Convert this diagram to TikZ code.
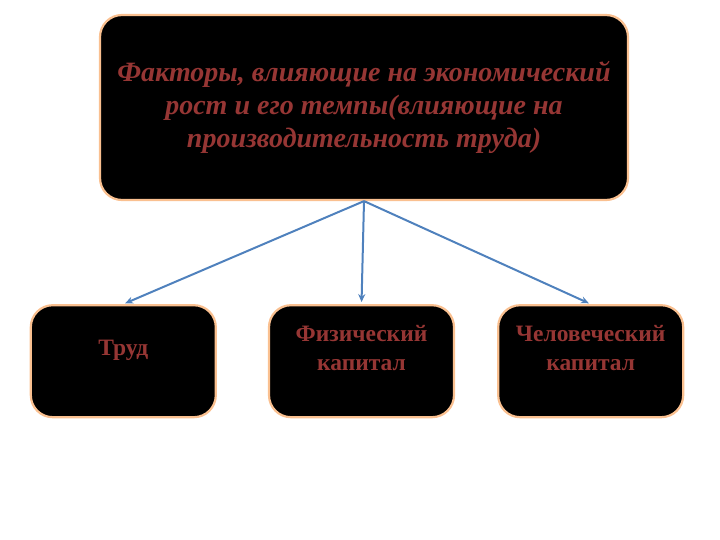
\documentclass[tikz,border=0pt]{standalone}
\usepackage{fontspec}
\setmainfont{Liberation Serif}
\usetikzlibrary{positioning,arrows.meta}
\definecolor{txtred}{RGB}{150,54,52}
\definecolor{glow}{RGB}{250,192,144}
\definecolor{arrblue}{RGB}{79,129,189}

\begin{document}
\begin{tikzpicture}[x=1pt, y=1pt]
% page size of the slide ^

\tikzstyle{box}   = [draw=glow, line width=2.2pt, fill=black, rounded corners=22pt, text=txtred, align=center] % black rounded box
\tikzstyle{small} = [box, minimum width=185pt, minimum height=112pt, text depth=27pt, font=\bfseries\fontsize{23.5}{29}\selectfont] % factor group box
\tikzstyle{arrow} = [line width=2pt, color=arrblue, -{Stealth[length=8pt, width=7pt]}, shorten >=2pt] % blue arrow

\useasboundingbox (0,0) rectangle (720,-540);

% main box
\node(fac)[box, minimum width=528pt, minimum height=185pt, font=\bfseries\itshape\fontsize{28}{33}\selectfont] at (364,-107.5){Факторы, влияющие на экономический\\рост и его темпы(влияющие на\\производительность труда)};

% factor groups
\node(phys)[small, below=103pt of fac, xshift=-2.5pt]{Физический\\капитал};
\node(labor)[small, left=51pt of phys]{Труд};
\node(human)[small, right=42pt of phys]{Человеческий\\капитал};

% arrows
\draw[arrow](fac.south)--(labor.north);
\draw[arrow](fac.south)--(phys.north);
\draw[arrow](fac.south)--(human.north);
\end{tikzpicture}
\end{document}
